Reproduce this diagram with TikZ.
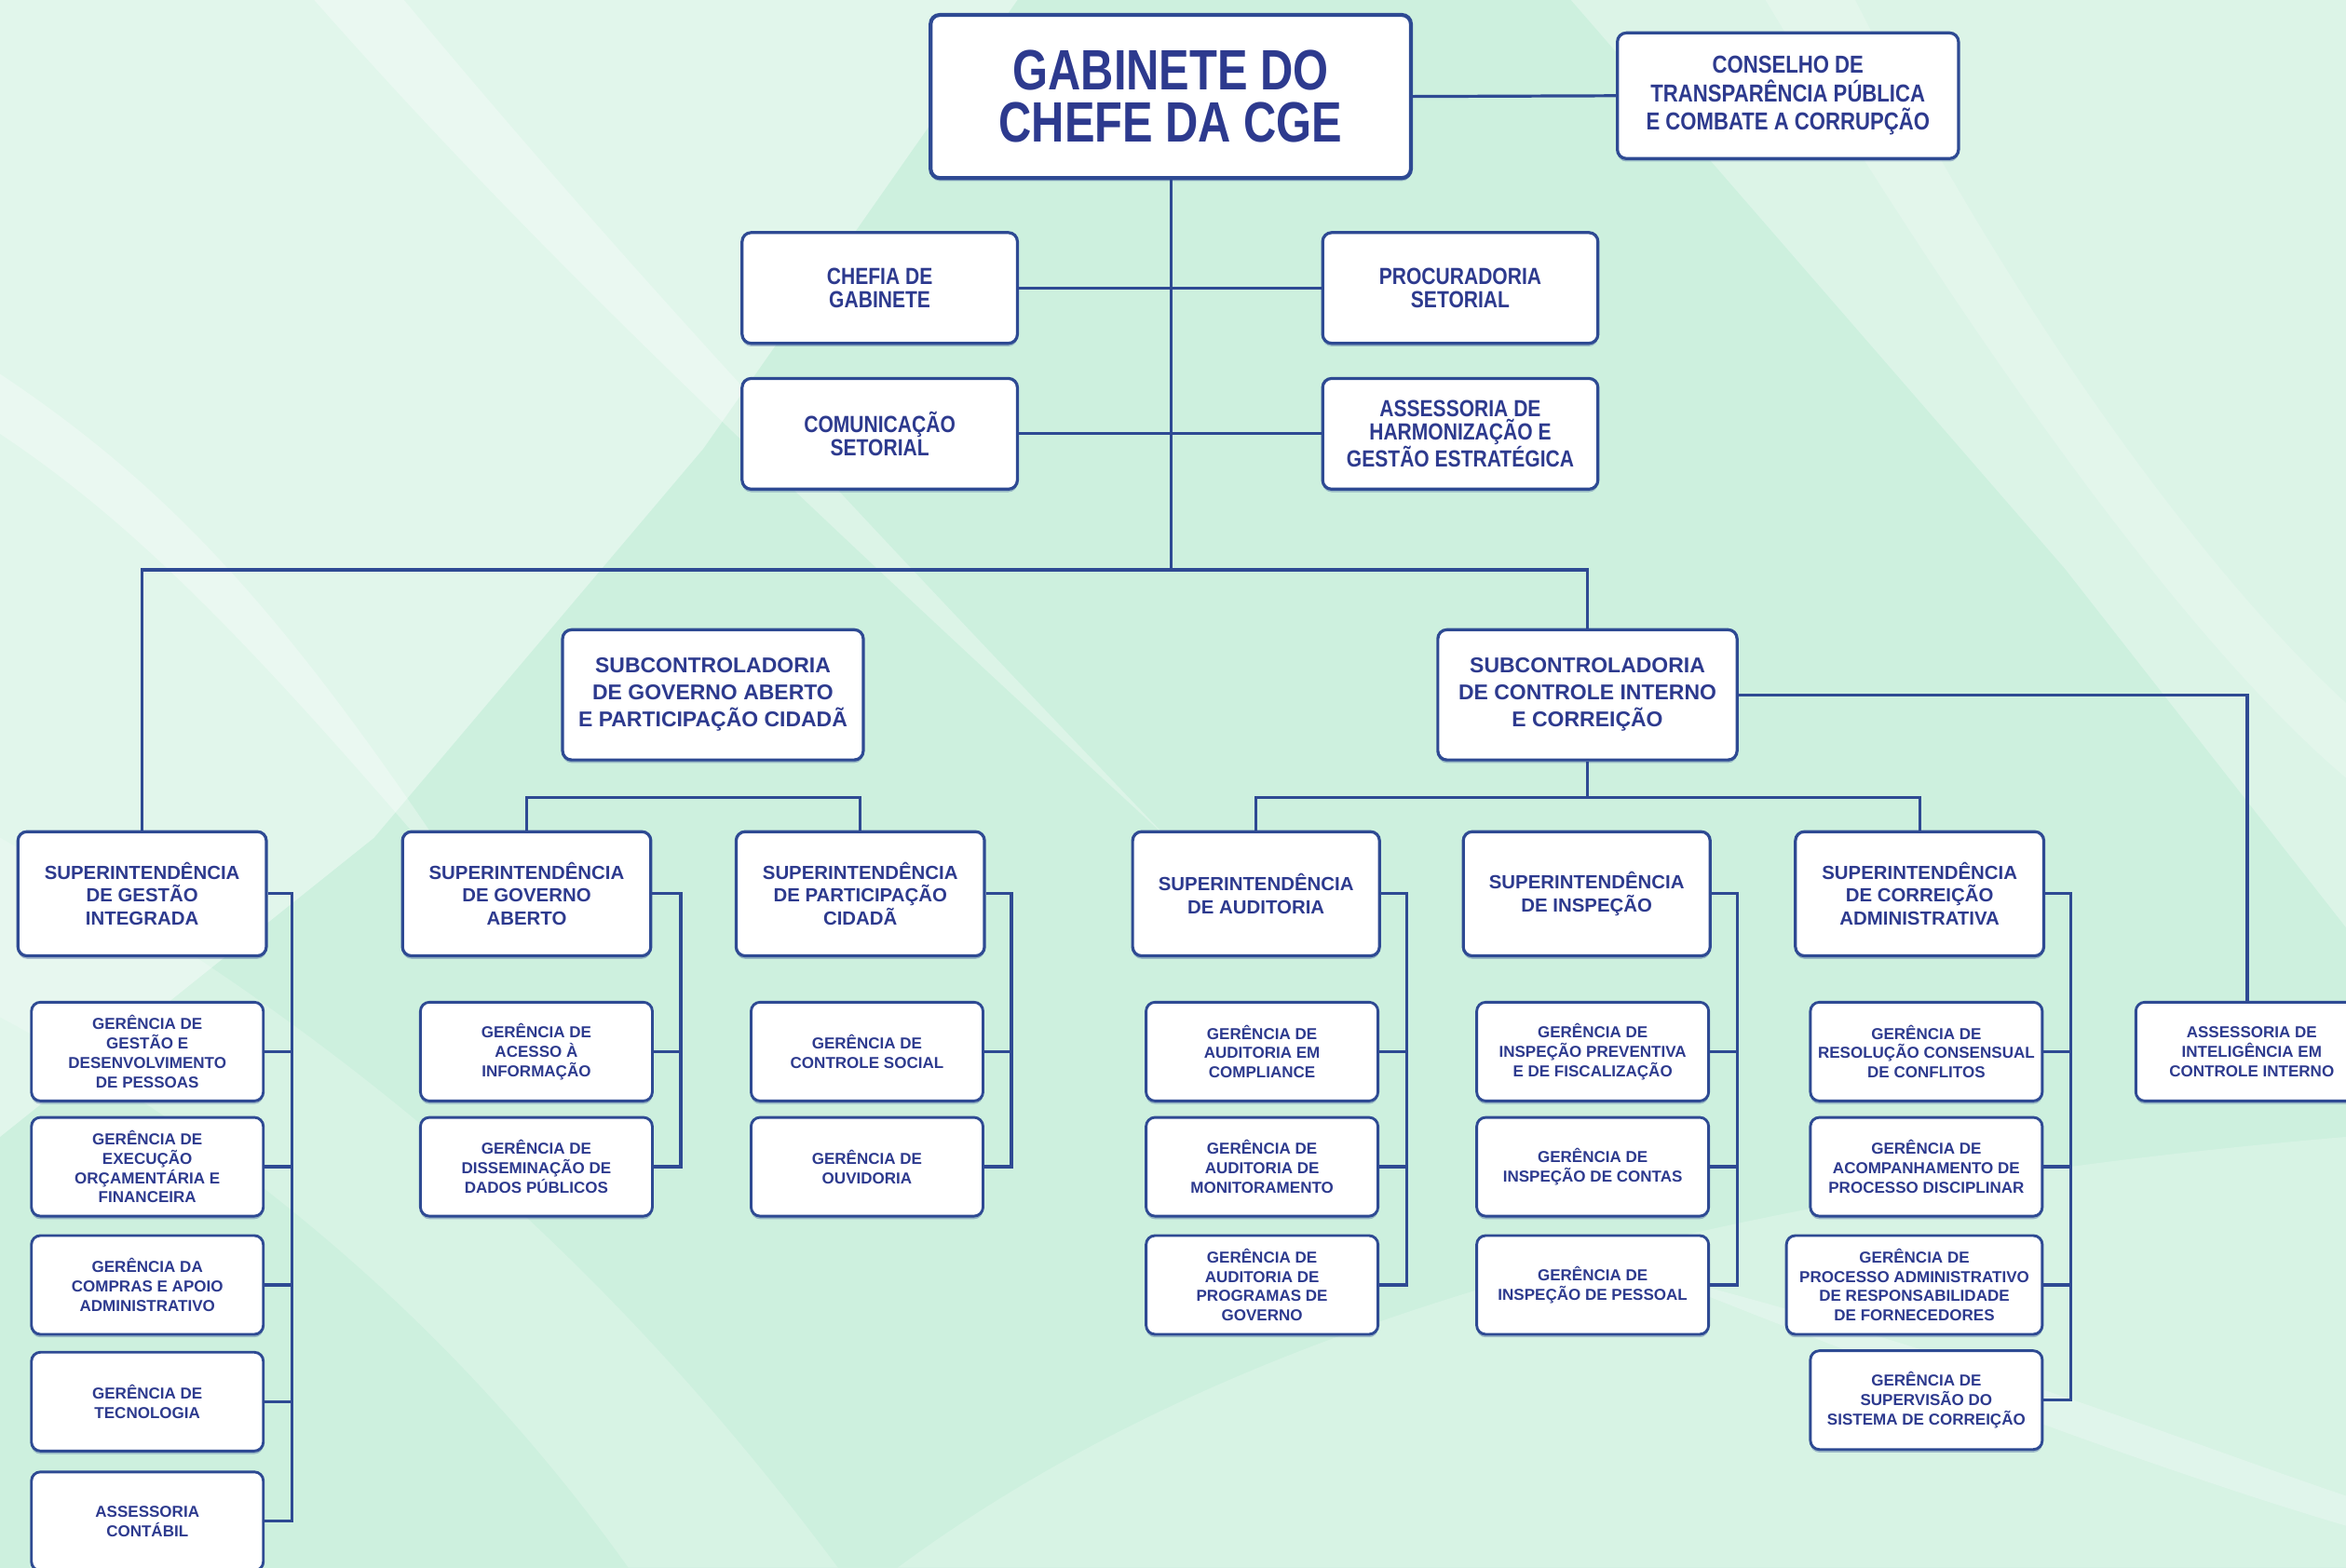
\documentclass[tikz,border=0pt]{standalone}
\usepackage{fontspec}
\setmainfont{Liberation Sans}
\newfontfamily\condfont{Liberation Sans}[FakeStretch=0.84]
\newfontfamily\titlefont{Liberation Sans}[FakeStretch=0.8]
\usetikzlibrary{shadows}
\pgfdeclarelayer{bglayer}
\pgfdeclarelayer{linelayer}
\pgfsetlayers{bglayer,linelayer,main}
\definecolor{bord}{HTML}{2E4A93}
\definecolor{tx}{HTML}{2D3A8E}
\definecolor{mint}{HTML}{CDF0DE}
\tikzset{
  box/.style={draw=bord, line width=2pt, fill=white, rounded corners=6pt,
    align=center, text=tx, inner sep=1pt,
    drop shadow={shadow xshift=0pt, shadow yshift=-2pt, fill=bord, opacity=0.35}},
  titlebox/.style={box, line width=2.6pt, minimum width=321pt, minimum height=109pt,
    font=\titlefont\bfseries\fontsize{38}{35}\selectfont},
  topbox/.style={box, minimum width=184pt, minimum height=74pt,
    font=\condfont\bfseries\fontsize{15.6}{15.5}\selectfont},
  consbox/.style={box, minimum width=228pt, minimum height=84pt,
    font=\condfont\bfseries\fontsize{16.4}{19}\selectfont},
  subbox/.style={box, minimum width=200pt, minimum height=87pt,
    font=\bfseries\fontsize{14.3}{18}\selectfont},
  supbox/.style={box, minimum width=166pt, minimum height=83pt,
    font=\bfseries\fontsize{12.7}{15.5}\selectfont},
  gerbox/.style={box, line width=1.8pt, minimum width=155pt, minimum height=66pt,
    font=\bfseries\fontsize{10.6}{13}\selectfont},
  conn/.style={draw=bord, line width=2pt},
}
\begin{document}
\begin{tikzpicture}[x=1pt,y=-1pt]
% ---------- background ----------
\useasboundingbox (0,0) rectangle (1568,1048);
\begin{pgfonlayer}{bglayer}
\fill[mint] (0,0) rectangle (1568,1048);
\fill[white,opacity=0.4] (0,0) -- (680,0) -- (470,300) -- (250,560) -- (0,760) -- cycle;
\fill[white,opacity=0.3] (1050,0) -- (1568,0) -- (1568,620) -- (1380,380) -- cycle;
\fill[white,opacity=0.3] (210,0) -- (270,0) .. controls (420,180) and (560,330) .. (780,560) .. controls (520,320) and (360,170) .. cycle;
\fill[white,opacity=0.3] (0,250) .. controls (120,330) and (200,420) .. (330,620) .. controls (170,430) and (90,350) .. (0,290) -- cycle;
\fill[white,opacity=0.2] (0,560) .. controls (250,700) and (420,860) .. (560,1048) -- (420,1048) .. controls (300,880) and (150,760) .. (0,680) -- cycle;
\fill[white,opacity=0.25] (1100,850) .. controls (1300,900) and (1450,960) .. (1568,1000) -- (1568,1020) .. controls (1450,985) and (1300,930) .. cycle;
\fill[white,opacity=0.2] (1180,0) .. controls (1300,200) and (1450,420) .. (1568,520) -- (1568,470) .. controls (1470,380) and (1340,200) .. (1240,0) -- cycle;
\fill[white,opacity=0.2] (600,1048) .. controls (800,900) and (1100,800) .. (1568,760) -- (1568,1048) -- cycle;
\end{pgfonlayer}

% ---------- top level ----------
\node[titlebox] (gab) at (782.5,64.5) {GABINETE DO\\CHEFE DA CGE};
\node[consbox] (cons) at (1195,64) {CONSELHO DE\\TRANSPARÊNCIA PÚBLICA\\E COMBATE A CORRUPÇÃO};
\node[topbox] (chefia) at (588,192.5) {CHEFIA DE\\GABINETE};
\node[topbox] (proc) at (976,192.5) {PROCURADORIA\\SETORIAL};
\node[topbox] (com) at (588,290) {COMUNICAÇÃO\\SETORIAL};
\node[topbox] (ass) at (976,290) {ASSESSORIA DE\\HARMONIZAÇÃO E\\GESTÃO ESTRATÉGICA};

% ---------- subcontroladorias ----------
\node[subbox, minimum width=201pt] (subga) at (476.5,464.5) {SUBCONTROLADORIA\\DE GOVERNO ABERTO\\E PARTICIPAÇÃO CIDADÃ};
\node[subbox] (subci) at (1061,464.5) {SUBCONTROLADORIA\\DE CONTROLE INTERNO\\E CORREIÇÃO};

% ---------- superintendencias ----------
\node[supbox] (supgi) at (95,597.5) {SUPERINTENDÊNCIA\\DE GESTÃO\\INTEGRADA};
\node[supbox] (supga) at (352,597.5) {SUPERINTENDÊNCIA\\DE GOVERNO\\ABERTO};
\node[supbox] (suppc) at (575,597.5) {SUPERINTENDÊNCIA\\DE PARTICIPAÇÃO\\CIDADÃ};
\node[supbox, minimum width=165pt] (supau) at (839.5,597.5) {SUPERINTENDÊNCIA\\DE AUDITORIA};
\node[supbox, minimum width=165pt] (supin) at (1060.5,597.5) {SUPERINTENDÊNCIA\\DE INSPEÇÃO};
\node[supbox] (supco) at (1283,597.5) {SUPERINTENDÊNCIA\\DE CORREIÇÃO\\ADMINISTRATIVA};

% ---------- gerencias ----------
\node[gerbox] (gi1) at (98.5,703) {GERÊNCIA DE\\GESTÃO E\\DESENVOLVIMENTO\\DE PESSOAS};
\node[gerbox] (gi2) at (98.5,780) {GERÊNCIA DE\\EXECUÇÃO\\ORÇAMENTÁRIA E\\FINANCEIRA};
\node[gerbox] (gi3) at (98.5,859) {GERÊNCIA DA\\COMPRAS E APOIO\\ADMINISTRATIVO};
\node[gerbox] (gi4) at (98.5,937) {GERÊNCIA DE\\TECNOLOGIA};
\node[gerbox] (gi5) at (98.5,1017) {ASSESSORIA\\CONTÁBIL};

\node[gerbox] (ga1) at (358.5,703) {GERÊNCIA DE\\ACESSO À\\INFORMAÇÃO};
\node[gerbox] (ga2) at (358.5,780) {GERÊNCIA DE\\DISSEMINAÇÃO DE\\DADOS PÚBLICOS};

\node[gerbox] (pc1) at (579.5,703) {GERÊNCIA DE\\CONTROLE SOCIAL};
\node[gerbox] (pc2) at (579.5,780) {GERÊNCIA DE\\OUVIDORIA};

\node[gerbox] (au1) at (843.5,703) {GERÊNCIA DE\\AUDITORIA EM\\COMPLIANCE};
\node[gerbox] (au2) at (843.5,780) {GERÊNCIA DE\\AUDITORIA DE\\MONITORAMENTO};
\node[gerbox] (au3) at (843.5,859) {GERÊNCIA DE\\AUDITORIA DE\\PROGRAMAS DE\\GOVERNO};

\node[gerbox] (in1) at (1064.5,703) {GERÊNCIA DE\\INSPEÇÃO PREVENTIVA\\E DE FISCALIZAÇÃO};
\node[gerbox] (in2) at (1064.5,780) {GERÊNCIA DE\\INSPEÇÃO DE CONTAS};
\node[gerbox] (in3) at (1064.5,859) {GERÊNCIA DE\\INSPEÇÃO DE PESSOAL};

\node[gerbox] (co1) at (1287.5,703) {GERÊNCIA DE\\RESOLUÇÃO CONSENSUAL\\DE CONFLITOS};
\node[gerbox] (co2) at (1287.5,780) {GERÊNCIA DE\\ACOMPANHAMENTO DE\\PROCESSO DISCIPLINAR};
\node[gerbox, minimum width=171pt] (co3) at (1279.5,859) {GERÊNCIA DE\\PROCESSO ADMINISTRATIVO\\DE RESPONSABILIDADE\\DE FORNECEDORES};
\node[gerbox] (co4) at (1287.5,936) {GERÊNCIA DE\\SUPERVISÃO DO\\SISTEMA DE CORREIÇÃO};

\node[gerbox] (aic) at (1505,703) {ASSESSORIA DE\\INTELIGÊNCIA EM\\CONTROLE INTERNO};

% ---------- connector coordinates ----------
\coordinate (busL) at (95,381);
\coordinate (busR) at (1061,381);
\coordinate (bus2) at (0,533);
\coordinate (cgi) at (195,0);
\coordinate (cga) at (455,0);
\coordinate (cpc) at (676,0);
\coordinate (cau) at (940,0);
\coordinate (cin) at (1161,0);
\coordinate (cco) at (1384,0);
\coordinate (caic) at (1502,0);

% ---------- connectors ----------
\begin{pgfonlayer}{linelayer}
\draw[conn] (gab.east) -- (cons.west);
\draw[conn] (gab.south) -- (gab.south |- busL);
\draw[conn] (chefia.east) -- (proc.west);
\draw[conn] (com.east) -- (ass.west);
\draw[conn] (supgi.north) -- (busL) -- (busR) -- (subci.north);
% subcontroladoria de controle interno
\draw[conn] (subci.south) -- (subci.south |- bus2);
\draw[conn] (supau.north) -- (supau.north |- bus2) -- (supco.north |- bus2) -- (supco.north);
\draw[conn] (subci.east) -- (subci.east -| caic) -- (caic |- aic.north);
% governo aberto pair
\draw[conn] (supga.north) -- (supga.north |- bus2) -- (suppc.north |- bus2) -- (suppc.north);
% side connectors
\draw[conn] (supgi.east) -- (supgi.east -| cgi) -- (cgi |- gi5.east) -- (gi5.east);
\foreach \g in {gi1,gi2,gi3,gi4} \draw[conn] (\g.east) -- (\g.east -| cgi);
\draw[conn] (supga.east) -- (supga.east -| cga) -- (cga |- ga2.east) -- (ga2.east);
\draw[conn] (ga1.east) -- (ga1.east -| cga);
\draw[conn] (suppc.east) -- (suppc.east -| cpc) -- (cpc |- pc2.east) -- (pc2.east);
\draw[conn] (pc1.east) -- (pc1.east -| cpc);
\draw[conn] (supau.east) -- (supau.east -| cau) -- (cau |- au3.east) -- (au3.east);
\foreach \g in {au1,au2} \draw[conn] (\g.east) -- (\g.east -| cau);
\draw[conn] (supin.east) -- (supin.east -| cin) -- (cin |- in3.east) -- (in3.east);
\foreach \g in {in1,in2} \draw[conn] (\g.east) -- (\g.east -| cin);
\draw[conn] (supco.east) -- (supco.east -| cco) -- (cco |- co4.east) -- (co4.east);
\foreach \g in {co1,co2,co3} \draw[conn] (\g.east) -- (\g.east -| cco);
\end{pgfonlayer}
\end{tikzpicture}
\end{document}
